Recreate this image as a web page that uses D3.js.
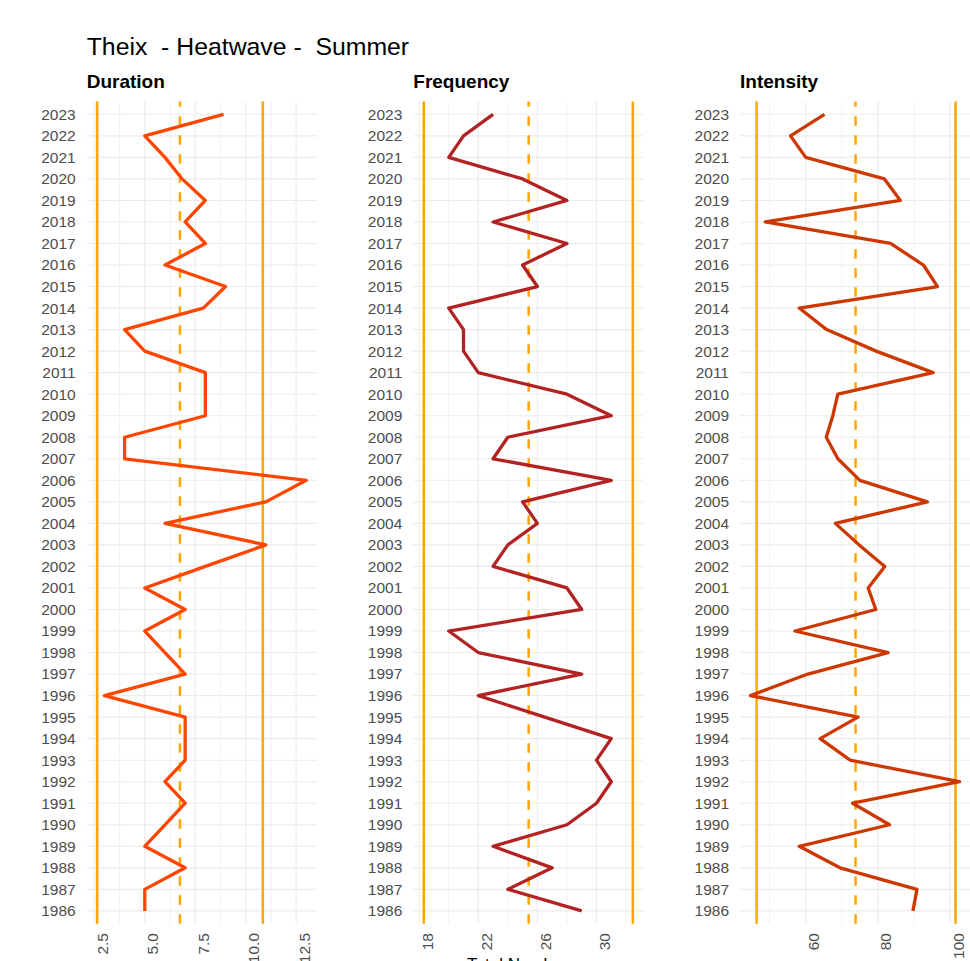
<!DOCTYPE html>
<html>
<head>
<meta charset="utf-8">
<script src="https://cdn.jsdelivr.net/npm/d3@7"></script>
<style>
  html, body { margin: 0; padding: 0; background: #fff; }
  svg { display: block; font-family: "Liberation Sans", Arial, sans-serif; }
</style>
</head>
<body>
<svg id="chart" width="970" height="961"></svg>
<script>
// ---------------- data ----------------
const years = [1986,1987,1988,1989,1990,1991,1992,1993,1994,1995,1996,1997,1998,1999,2000,2001,2002,2003,2004,2005,2006,2007,2008,2009,2010,2011,2012,2013,2014,2015,2016,2017,2018,2019,2020,2021,2022,2023];

const duration = [5,5,7,5,6,7,6,7,7,7,3,7,6,5,7,5,8,11,6,11,13,4,4,8,8,8,5,4,7.9,9,6,8,7,8,6.85,6,5,8.9];
const frequency = [29,24,27,23,28,30,31,30,31,26.5,22,29,22,20,29,28,23,24,26,25,31,23,24,31,28,22,21,21,20,26,25,28,23,28,25,20,21,23];
const intensity = [89.7,90.8,69.5,58.2,83.2,73.0,102.6,72.3,64.0,74.5,44.7,60.6,82.8,57.0,79.4,77.3,81.9,74.8,68.2,93.7,75.0,68.9,65.7,67.5,68.9,95.3,79.5,65.8,58.2,96.5,92.6,83.5,48.8,86.2,81.8,60.0,55.8,65.2];

// reference lines: [lower, mean, upper]
const durationRefs = [2.64, 6.74, 10.85];
const frequencyRefs = [18.31, 25.41, 32.46];
const intensityRefs = [46.4, 73.8, 101.5];

const durationTicks = [2.5, 5.0, 7.5, 10.0, 12.5];
const frequencyTicks = [18, 22, 26, 30];
const intensityTicks = [60, 80, 100];

const panelTitles = ["Duration", "Frequency", "Intensity"];
const chartTitle = "Theix  - Heatwave -  Summer";
const frequencyAxisTitle = "Total Number";

// ---------------- layout ----------------
const svg = d3.select("#chart");
const panelTop = 101.4, panelBottom = 923.8, panelWidth = 230;
const panelLefts = [86.7, 413.3, 740];
const lineColors = ["#FF4500", "#B22222", "#CD3700"];
const refColor = "#FFA500";
const tickFormats = [d3.format(".1f"), d3.format("d"), d3.format("d")];

const y = d3.scalePoint()
  .domain(years.slice().reverse())
  .range([panelTop, panelBottom])
  .padding(0.6);

const panels = [
  {title: panelTitles[0], values: duration, refs: durationRefs, ticks: durationTicks},
  {title: panelTitles[1], values: frequency, refs: frequencyRefs, ticks: frequencyTicks},
  {title: panelTitles[2], values: intensity, refs: intensityRefs, ticks: intensityTicks}
];

svg.append("text")
  .attr("x", 86.7).attr("y", 55)
  .attr("font-size", 24.8).attr("fill", "#000")
  .style("white-space", "pre")
  .attr("xml:space", "preserve")
  .text(chartTitle);

panels.forEach((p, i) => {
  const left = panelLefts[i];
  const all = p.values.concat(p.refs);
  const [mn, mx] = d3.extent(all);
  const pad = (mx - mn) * 0.05;
  const x = d3.scaleLinear().domain([mn - pad, mx + pad]).range([left, left + panelWidth]);
  const g = svg.append("g");

  // minor grid
  const step = p.ticks[1] - p.ticks[0];
  const minor = [];
  for (let t = p.ticks[0] - step / 2; t <= mx + pad; t += step) {
    if (t >= mn - pad) minor.push(t);
  }
  g.selectAll("line.minor").data(minor).join("line")
    .attr("x1", d => x(d)).attr("x2", d => x(d))
    .attr("y1", panelTop).attr("y2", panelBottom)
    .attr("stroke", "#EFEFEF").attr("stroke-width", 0.9);

  // major vertical grid
  g.selectAll("line.vmaj").data(p.ticks.filter(t => t >= mn - pad && t <= mx + pad)).join("line")
    .attr("x1", d => x(d)).attr("x2", d => x(d))
    .attr("y1", panelTop).attr("y2", panelBottom)
    .attr("stroke", "#EBEBEB").attr("stroke-width", 1.1);

  // horizontal grid
  g.selectAll("line.hmaj").data(years).join("line")
    .attr("x1", left).attr("x2", left + panelWidth)
    .attr("y1", d => y(d)).attr("y2", d => y(d))
    .attr("stroke", "#EBEBEB").attr("stroke-width", 1.1);

  // y-axis labels
  g.selectAll("text.ylab").data(years).join("text")
    .attr("x", left - 11).attr("y", d => y(d))
    .attr("dy", "0.35em").attr("text-anchor", "end")
    .attr("font-size", 15.5).attr("fill", "#4D4D4D")
    .text(d => d);

  // x-axis labels
  g.selectAll("text.xlab").data(p.ticks).join("text")
    .attr("transform", d => `translate(${x(d) + 8},933) rotate(-90)`)
    .attr("dy", "0.35em").attr("text-anchor", "end")
    .attr("font-size", 15.5).attr("fill", "#4D4D4D")
    .text(d => tickFormats[i](d));

  // reference lines
  g.selectAll("line.ref").data(p.refs).join("line")
    .attr("x1", d => x(d)).attr("x2", d => x(d))
    .attr("y1", panelBottom).attr("y2", panelTop)
    .attr("stroke", refColor)
    .attr("stroke-width", 2.5)
    .attr("stroke-dasharray", (d, j) => j === 1 ? "9.5,9.5" : null);

  // data line
  const line = d3.line()
    .x(d => x(d[1]))
    .y(d => y(d[0]));
  g.append("path")
    .datum(years.map((yr, k) => [yr, p.values[k]]))
    .attr("d", line)
    .attr("fill", "none")
    .attr("stroke", lineColors[i])
    .attr("stroke-width", 3.3)
    .attr("stroke-linejoin", "round")
    .attr("stroke-linecap", "butt");

  // panel title
  svg.append("text")
    .attr("x", left).attr("y", 88.3)
    .attr("font-size", 19).attr("font-weight", "bold").attr("fill", "#000")
    .text(p.title);

  if (i === 1) {
    svg.append("text")
      .attr("x", 467).attr("y", 969.5)
      .attr("font-size", 17).attr("fill", "#000")
      .text(frequencyAxisTitle);
  }
});
</script>
</body>
</html>
